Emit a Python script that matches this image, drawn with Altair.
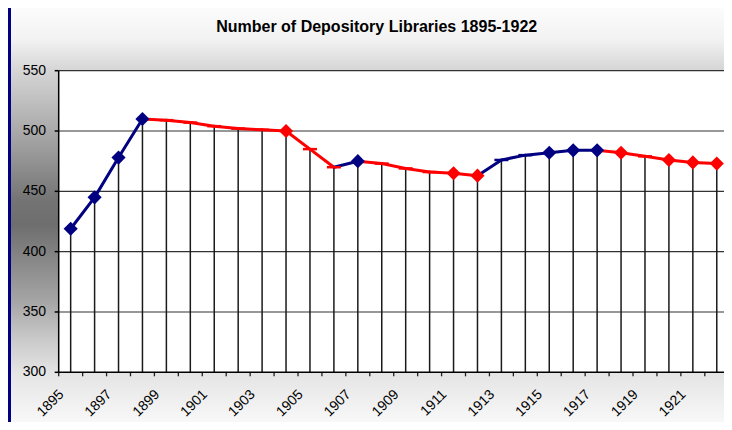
import altair as alt
import pandas as pd

# ---------------- data ----------------
years = [1895, 1896, 1897, 1898, 1899, 1900, 1901, 1902, 1903, 1904,
         1905, 1906, 1907, 1908, 1909, 1910, 1911, 1912, 1913, 1914,
         1915, 1916, 1917, 1918, 1919, 1920, 1921, 1922]
libraries = [419, 445, 478, 510, 509, 507, 504, 502, 501, 500,
             485, 470, 475, 473, 469, 466, 465, 463, 476, 480,
             482, 484, 484, 482, 479, 476, 474, 473]
# colour group of the segment that ends at each point (and of its marker)
run_group = ["blue", "blue", "blue", "blue",
             "red", "red", "red", "red", "red", "red", "red", "red",
             "blue",
             "red", "red", "red", "red", "red",
             "blue", "blue", "blue", "blue", "blue",
             "red", "red", "red", "red", "red"]
marker_kind = ["diamond", "diamond", "diamond", "diamond",
               "dash", "dash", "dash", "dash", "dash", "diamond",
               "dash", "dash", "diamond",
               "dash", "dash", "dash", "diamond", "diamond",
               "dash", "dash", "diamond", "diamond", "diamond",
               "diamond", "dash", "diamond", "diamond", "diamond"]
y_ticks = [300, 350, 400, 450, 500, 550]
x_labels = [1895, 1897, 1899, 1901, 1903, 1905, 1907, 1909, 1911,
            1913, 1915, 1917, 1919, 1921]
title_text = "Number of Depository Libraries 1895-1922"

# ---------------- layout / style ----------------
NAVY = "#000080"
RED = "#FF0000"
FONT = "Liberation Sans"
TOTAL_H = 414
PAD_L = 50.7
PAD_T = 62.7
W = 716 - PAD_L
H = 301.6
PAD_B = TOTAL_H - PAD_T - H

df = pd.DataFrame({"year": years, "libraries": libraries,
                   "grp": run_group, "marker": marker_kind})
seg_df = pd.DataFrame({
    "x0": years[:-1], "y0": libraries[:-1],
    "x1": years[1:], "y1": libraries[1:],
    "grp": run_group[1:],
})
bounds = [y - 0.5 for y in years] + [years[-1] + 0.5]
one = pd.DataFrame({"z": [0]})
ytick_df = pd.DataFrame({"v": y_ticks})
xlab_df = pd.DataFrame({"lab": x_labels})

xscale = alt.Scale(domain=[1894.5, 1894.5 + W / 23.93], nice=False, zero=False)
yscale = alt.Scale(domain=[300, 550], nice=False, zero=False)
cscale = alt.Scale(domain=["blue", "red"], range=[NAVY, RED])


def X(field):
    return alt.X(field, scale=xscale, axis=None)


def Y(field):
    return alt.Y(field, scale=yscale, axis=None)


gradient = {
    "gradient": "linear", "x1": 0, "x2": 0, "y1": 0, "y2": 1,
    "stops": [
        {"offset": 0.0, "color": "#fcfcfc"},
        {"offset": 0.077, "color": "#f2f2f2"},
        {"offset": 0.143, "color": "#d8d8d8"},
        {"offset": 0.302, "color": "#a8a8a8"},
        {"offset": 0.464, "color": "#747474"},
        {"offset": 0.524, "color": "#6e6e6e"},
        {"offset": 0.705, "color": "#a4a4a4"},
        {"offset": 0.802, "color": "#cacaca"},
        {"offset": 0.879, "color": "#e4e4e4"},
        {"offset": 1.0, "color": "#f8f8f8"},
    ],
}

navy_strip = alt.Chart(one).mark_rect(fill=NAVY).encode(
    x=alt.value(-PAD_L), x2=alt.value(-PAD_L + 3),
    y=alt.value(-PAD_T), y2=alt.value(H + PAD_B))

bg = alt.Chart(one).mark_rect(fill=gradient).encode(
    x=alt.value(-PAD_L + 3), x2=alt.value(W),
    y=alt.value(-PAD_T), y2=alt.value(H + PAD_B))

plot_bg = alt.Chart(one).mark_rect(fill="white").encode(
    x=alt.value(0), x2=alt.value(W), y=alt.value(0), y2=alt.value(H))

grid = alt.Chart(pd.DataFrame({"v": y_ticks[1:]})).mark_rule(
    color="#333333", strokeWidth=1.2).encode(
    y=Y("v:Q"), x=alt.value(0), x2=alt.value(W))

drop = alt.Chart(df).mark_rule(color="#1a1a1a", strokeWidth=1.5).encode(
    x=X("year:Q"), y=Y("libraries:Q"), y2=alt.value(H))

xticks = alt.Chart(pd.DataFrame({"b": bounds})).mark_rule(
    color="#222222", strokeWidth=1.3).encode(
    x=X("b:Q"), y=alt.value(H), y2=alt.value(H + 4))

yticks = alt.Chart(ytick_df).mark_rule(color="black", strokeWidth=1.5).encode(
    y=Y("v:Q"), x=alt.value(-4), x2=alt.value(0))

y_domain = alt.Chart(one).mark_rule(color="black", strokeWidth=1.5).encode(
    x=alt.value(0), y=alt.value(0), y2=alt.value(H))

x_domain = alt.Chart(one).mark_rule(color="black", strokeWidth=1.5).encode(
    x=alt.value(0), x2=alt.value(W), y=alt.value(H))

ylabels = alt.Chart(ytick_df).mark_text(
    font=FONT, fontSize=14, color="black", align="right", baseline="middle").encode(
    y=Y("v:Q"), x=alt.value(-12.7), text=alt.Text("v:Q", format="d"))

xlabels = alt.Chart(xlab_df).mark_text(
    font=FONT, fontSize=14, color="black", align="right", baseline="middle",
    angle=315, dx=-6.4, dy=-6.4).encode(
    x=X("lab:Q"), y=alt.value(H + 20), text=alt.Text("lab:Q", format="d"))

segs = alt.Chart(seg_df).mark_rule(strokeWidth=3, strokeCap="round").encode(
    x=X("x0:Q"), x2="x1:Q", y=Y("y0:Q"), y2="y1:Q",
    color=alt.Color("grp:N", scale=cscale, legend=None))

dashes = alt.Chart(df).transform_filter(alt.datum.marker == "dash").mark_point(
    shape="M-1,0L1,0", filled=False, size=196, strokeWidth=2.5, opacity=1).encode(
    x=X("year:Q"), y=Y("libraries:Q"),
    color=alt.Color("grp:N", scale=cscale, legend=None))

diamonds = alt.Chart(df).transform_filter(alt.datum.marker == "diamond").mark_point(
    shape="diamond", filled=True, size=200, opacity=1).encode(
    x=X("year:Q"), y=Y("libraries:Q"),
    color=alt.Color("grp:N", scale=cscale, legend=None))

title = alt.Chart(one).mark_text(
    text=title_text, font=FONT, fontSize=16, fontWeight="bold",
    align="center", baseline="alphabetic", color="black").encode(
    x=alt.value(318), y=alt.value(-39))

chart = alt.layer(
    navy_strip, bg, plot_bg, grid, drop, xticks, yticks, y_domain, x_domain,
    ylabels, xlabels, segs, dashes, diamonds, title
).properties(
    width=W, height=H,
    padding={"left": PAD_L, "top": PAD_T, "right": 0, "bottom": PAD_B},
    autosize=alt.AutoSizeParams(type="none"),
    background="white",
).configure_view(stroke=None)

chart.save("out.html", embed_options={"renderer": "svg", "actions": False})
